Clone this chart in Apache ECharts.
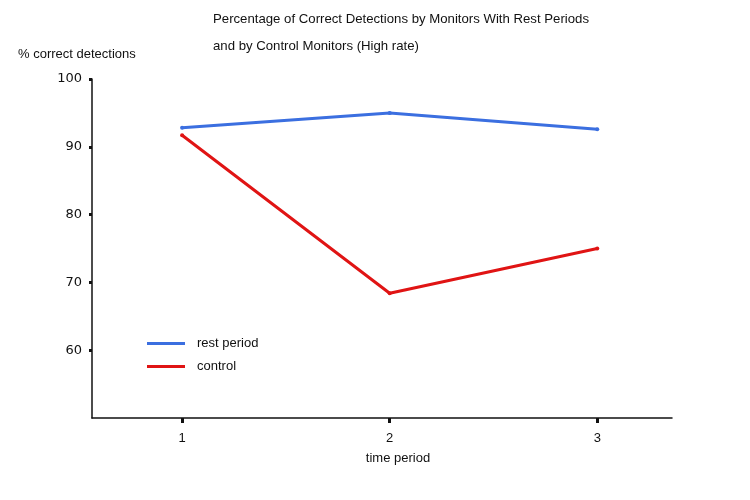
<!DOCTYPE html>
<html><head><meta charset="utf-8">
<script src="https://cdn.jsdelivr.net/npm/echarts@6/dist/echarts.min.js"></script>
<style>html,body{margin:0;padding:0;background:#fff}#c{width:750px;height:500px}</style>
</head><body><div id="c"></div>
<script>
const periods = [1, 2, 3];
const restPeriod = [92.8, 95.0, 92.6];
const control = [91.7, 68.4, 75.0];
const yTicks = [60, 70, 80, 90, 100];

const chart = echarts.init(document.getElementById('c'));
const font = 'Liberation Sans, Arial, sans-serif';
chart.setOption({
  animation: false,
  backgroundColor: '#fff',
  title: {
    text: 'Percentage of Correct Detections by Monitors With Rest Periods\nand by Control Monitors (High rate)',
    left: 208, top: 1,
    textStyle: { fontFamily: font, fontSize: 13.2, fontWeight: 'normal', color: '#111', lineHeight: 27 }
  },
  legend: {
    orient: 'vertical', left: 142, top: 332, itemGap: 10,
    itemWidth: 38, itemHeight: 3, icon: 'rect',
    textStyle: { fontFamily: font, fontSize: 13, color: '#111', padding: [0, 0, 0, 7] },
    data: ['rest period', 'control']
  },
  grid: { left: 92, right: 78, top: 79, bottom: 82, containLabel: false },
  xAxis: {
    type: 'value', min: 0.566, max: 3.36,
    name: 'time period', nameLocation: 'middle', nameGap: 34,
    nameTextStyle: { fontFamily: font, fontSize: 13, color: '#111', padding: [0, 0, 0, 32] },
    axisLine: { lineStyle: { color: '#111', width: 1.5 } },
    axisTick: { show: true, customValues: periods, length: 5, inside: false, lineStyle: { color: '#111', width: 3 } },
    axisLabel: { customValues: periods, fontFamily: font, fontSize: 13, color: '#111', margin: 14 },
    splitLine: { show: false }
  },
  yAxis: {
    type: 'value', min: 50, max: 100,
    name: '% correct detections', nameLocation: 'end', nameGap: 18,
    nameTextStyle: { fontFamily: font, fontSize: 13, color: '#111', align: 'left', padding: [0, 0, 0, -74] },
    axisLine: { show: true, lineStyle: { color: '#111', width: 1.5 } },
    axisTick: { show: true, customValues: yTicks, length: 3, lineStyle: { color: '#111', width: 3 } },
    axisLabel: { customValues: yTicks, fontFamily: 'DejaVu Sans, sans-serif', fontSize: 13, color: '#111', margin: 10 },
    splitLine: { show: false }
  },
  series: [
    {
      name: 'rest period', type: 'line',
      data: periods.map((p, i) => [p, restPeriod[i]]),
      symbol: 'circle', symbolSize: 4,
      lineStyle: { color: '#3b6fe0', width: 3 },
      itemStyle: { color: '#3b6fe0' }
    },
    {
      name: 'control', type: 'line',
      data: periods.map((p, i) => [p, control[i]]),
      symbol: 'circle', symbolSize: 4,
      lineStyle: { color: '#e01414', width: 3 },
      itemStyle: { color: '#e01414' }
    }
  ]
});
</script></body></html>
